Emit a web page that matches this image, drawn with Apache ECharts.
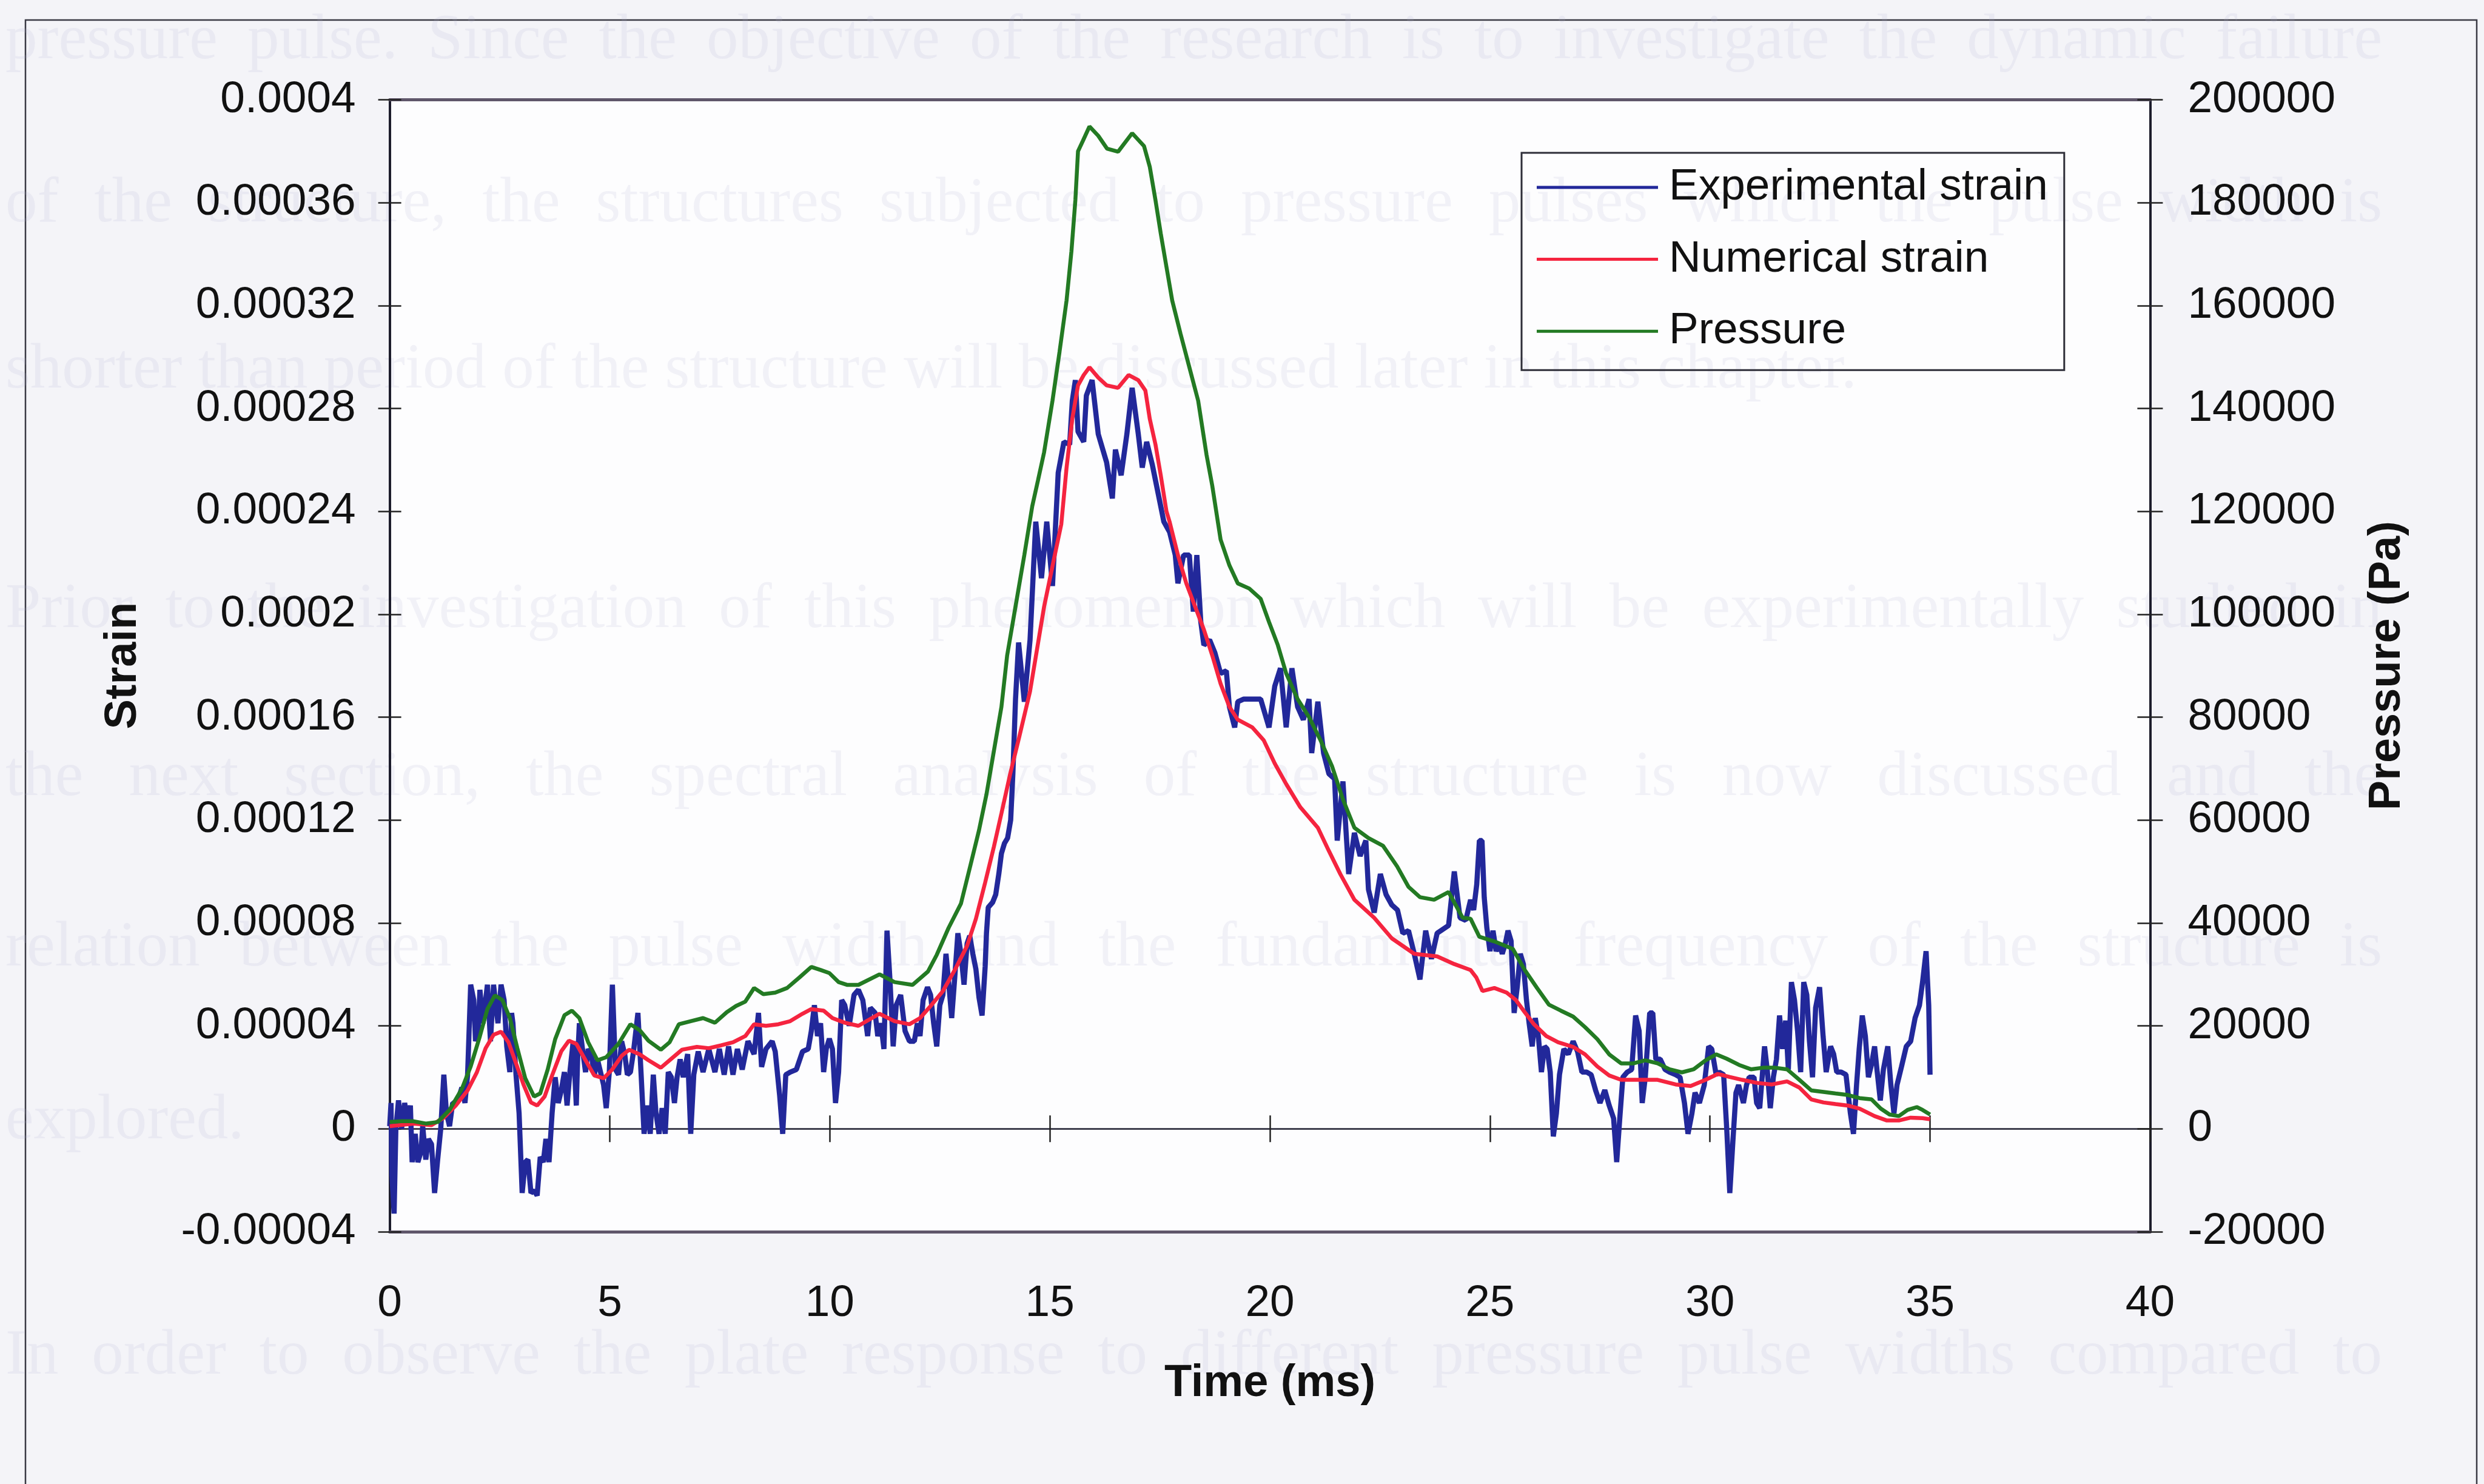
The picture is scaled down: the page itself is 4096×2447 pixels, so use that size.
<!DOCTYPE html>
<html>
<head>
<meta charset="utf-8">
<title>Strain and pressure vs time</title>
<script src="https://cdn.jsdelivr.net/npm/echarts/dist/echarts.min.js"></script>
<style>
  html, body { margin: 0; padding: 0; background: #f4f4f8; }
  #chart { width: 4096px; height: 2447px; }
</style>
</head>
<body>
<div id="chart"></div>
<script>
// ---------------- data ----------------
// axis tick labels
const timeTicks = ['0', '5', '10', '15', '20', '25', '30', '35', '40'];
const strainTicks = ['-0.00004', '0', '0.00004', '0.00008', '0.00012', '0.00016', '0.0002',
                     '0.00024', '0.00028', '0.00032', '0.00036', '0.0004'];
const pressureTicks = ['-20000', '0', '20000', '40000', '60000', '80000', '100000',
                       '120000', '140000', '160000', '180000', '200000'];

const seriesNames = ['Experimental strain', 'Numerical strain', 'Pressure'];

// measured strain gauge signal: [time (ms), strain (microstrain)]
const expStrain = [
  [0,1],[0.03,10],[0.05,-18],[0.1,-33],[0.14,0],[0.2,11],[0.27,0],[0.34,10],[0.4,3],[0.47,9],
  [0.51,-13],[0.58,-2],[0.64,-13],[0.71,-9],[0.75,1],[0.82,-12],[0.88,-4],[0.95,-6],[1.02,-25],[1.09,-12],
  [1.16,0],[1.23,21],[1.29,6],[1.36,1],[1.43,10],[1.53,10],[1.64,16],[1.71,10],[1.77,21],[1.84,56],
  [1.91,50],[1.95,34],[2.01,38],[2.05,54],[2.12,41],[2.22,56],[2.29,34],[2.36,56],[2.46,41],[2.53,56],
  [2.6,50],[2.66,32],[2.73,22],[2.77,45],[2.8,41],[2.87,21],[2.94,6],[3.01,-25],[3.08,-13],[3.14,-12],
  [3.21,-25],[3.28,-24],[3.35,-26],[3.42,-11],[3.49,-13],[3.55,-4],[3.62,-13],[3.69,6],[3.76,20],[3.83,10],
  [3.9,15],[3.97,22],[4.03,9],[4.1,23],[4.17,34],[4.24,9],[4.27,27],[4.31,41],[4.38,31],[4.45,22],
  [4.51,31],[4.58,29],[4.65,21],[4.72,27],[4.79,22],[4.86,17],[4.92,8],[4.99,22],[5.06,56],[5.13,23],
  [5.2,21],[5.27,34],[5.34,29],[5.4,21],[5.47,22],[5.54,30],[5.64,45],[5.71,22],[5.78,-2],[5.85,9],
  [5.92,-2],[5.99,21],[6.05,6],[6.12,-2],[6.19,8],[6.26,-2],[6.33,22],[6.4,20],[6.47,10],[6.53,20],
  [6.6,27],[6.67,20],[6.77,29],[6.84,-2],[6.91,21],[7.01,30],[7.12,22],[7.25,31],[7.39,22],[7.49,31],
  [7.6,21],[7.7,32],[7.8,21],[7.9,31],[8.01,23],[8.14,34],[8.28,29],[8.38,45],[8.45,24],[8.55,31],
  [8.69,34],[8.76,30],[8.86,13],[8.93,-2],[9,21],[9.1,22],[9.24,23],[9.38,30],[9.51,31],[9.58,38],
  [9.65,48],[9.72,36],[9.79,41],[9.86,22],[9.92,31],[9.99,35],[10.06,31],[10.13,10],[10.2,22],[10.27,50],
  [10.34,48],[10.44,40],[10.55,52],[10.65,54],[10.75,50],[10.86,36],[10.92,47],[11.03,45],[11.09,36],[11.16,41],
  [11.23,31],[11.3,77],[11.37,57],[11.44,32],[11.51,48],[11.61,52],[11.71,38],[11.81,34],[11.92,34],[11.99,41],
  [12.05,36],[12.12,50],[12.22,55],[12.29,52],[12.36,41],[12.43,32],[12.5,48],[12.57,52],[12.64,68],[12.7,57],
  [12.77,43],[12.84,59],[12.91,76],[12.98,68],[13.05,56],[13.12,72],[13.18,75],[13.25,68],[13.32,62],[13.39,51],
  [13.46,44],[13.53,63],[13.56,76],[13.6,86],[13.7,88],[13.77,91],[13.84,99],[13.9,107],[13.97,111],[14.04,113],
  [14.11,120],[14.16,138],[14.22,167],[14.29,189],[14.42,166],[14.55,190],[14.68,236],[14.81,214],[14.93,236],[15.06,211],
  [15.19,255],[15.32,267],[15.45,266],[15.51,283],[15.58,291],[15.64,271],[15.77,267],[15.83,285],[15.96,291],[16.1,270],
  [16.29,259],[16.42,245],[16.49,264],[16.62,254],[16.75,270],[16.87,288],[17.01,270],[17.1,257],[17.2,267],[17.33,258],
  [17.46,247],[17.59,236],[17.72,232],[17.85,223],[17.91,212],[18.04,223],[18.17,223],[18.26,201],[18.34,223],[18.43,197],
  [18.5,188],[18.63,190],[18.75,185],[18.88,177],[19.01,178],[19.08,164],[19.2,156],[19.27,166],[19.4,167],[19.79,167],
  [19.98,156],[20.11,172],[20.24,179],[20.37,156],[20.5,179],[20.63,164],[20.76,159],[20.89,167],[20.95,146],[21.09,166],
  [21.22,146],[21.34,138],[21.47,136],[21.53,112],[21.66,135],[21.79,99],[21.92,115],[22.05,106],[22.18,112],[22.24,93],
  [22.37,84],[22.51,99],[22.64,91],[22.77,87],[22.9,85],[23.02,76],[23.15,77],[23.28,68],[23.41,58],[23.54,77],
  [23.67,66],[23.8,76],[24.06,79],[24.19,100],[24.32,82],[24.45,81],[24.56,89],[24.63,85],[24.7,95],[24.76,112],
  [24.82,112],[24.87,90],[24.93,78],[25,69],[25.07,77],[25.14,69],[25.21,72],[25.28,68],[25.35,72],[25.41,77],
  [25.48,73],[25.55,45],[25.62,55],[25.69,68],[25.76,64],[25.83,50],[25.89,41],[25.96,32],[26.03,43],[26.1,36],
  [26.17,22],[26.24,32],[26.3,31],[26.37,22],[26.44,-3],[26.51,6],[26.58,21],[26.68,31],[26.78,29],[26.89,34],
  [26.99,30],[27.09,22],[27.2,22],[27.3,21],[27.4,15],[27.5,10],[27.61,15],[27.71,9],[27.81,4],[27.88,-13],
  [27.95,4],[28.02,20],[28.12,22],[28.22,23],[28.31,44],[28.39,38],[28.46,10],[28.53,20],[28.63,45],[28.7,45],
  [28.77,27],[28.87,27],[28.98,23],[29.08,22],[29.22,21],[29.32,20],[29.42,10],[29.5,-2],[29.59,6],[29.66,14],
  [29.76,10],[29.87,17],[29.97,32],[30.04,31],[30.14,21],[30.21,22],[30.31,21],[30.38,0],[30.45,-25],[30.52,-5],
  [30.59,14],[30.65,17],[30.76,10],[30.83,17],[30.89,20],[31,20],[31.06,10],[31.13,8],[31.24,32],[31.3,23],
  [31.37,8],[31.44,20],[31.51,27],[31.58,44],[31.65,31],[31.72,42],[31.78,23],[31.85,57],[31.92,50],[31.99,38],
  [32.06,22],[32.13,57],[32.2,52],[32.26,34],[32.33,20],[32.4,47],[32.49,55],[32.57,36],[32.64,22],[32.74,32],
  [32.81,29],[32.88,22],[32.98,22],[33.09,21],[33.19,6],[33.26,-2],[33.33,17],[33.39,31],[33.46,44],[33.53,36],
  [33.6,20],[33.67,25],[33.74,32],[33.8,22],[33.87,11],[33.94,23],[34.04,32],[34.11,17],[34.18,6],[34.25,17],
  [34.35,24],[34.46,32],[34.56,34],[34.66,43],[34.76,48],[34.83,57],[34.91,69],[34.97,48],[35,21]
];

// finite element prediction: [time (ms), strain (microstrain)]
const numStrain = [
  [0,1],[0.54,2],[0.95,1.4],[1.23,4.3],[1.5,9],[1.77,14.9],[1.98,21.9],[2.18,31.3],[2.36,36.5],[2.53,37.7],
  [2.7,33.6],[2.87,25.4],[3.04,17.2],[3.21,10.2],[3.35,9],[3.52,12.5],[3.69,20.7],[3.9,30.1],[4.07,34.2],[4.24,33],
  [4.45,26.6],[4.65,20.7],[4.86,19.6],[5.06,23.1],[5.27,28.3],[5.44,30.7],[5.68,28.9],[5.88,26.6],[6.16,23.7],[6.36,26.6],
  [6.64,30.7],[6.98,31.8],[7.25,31.3],[7.53,32.4],[7.8,33.6],[8.08,36],[8.28,40.6],[8.55,40],[8.83,40.6],[9.1,41.8],
  [9.38,44.7],[9.58,46.5],[9.86,45.9],[10.06,43],[10.34,41.2],[10.65,40],[11.13,44.7],[11.47,41.8],[11.81,40.6],[12.05,43],
  [12.29,47.7],[12.57,53.5],[12.84,61.7],[13.12,71.1],[13.32,81.6],[13.53,95.7],[13.73,109.7],[13.9,122.6],[14.1,138],[14.3,152],
  [14.55,170],[14.87,203],[15.1,222],[15.26,235],[15.38,257],[15.51,276],[15.64,289],[15.77,293],[15.9,296],[16.1,292],
  [16.29,289],[16.55,288],[16.79,293],[17.01,291],[17.17,287],[17.27,276],[17.4,266],[17.52,254],[17.65,240],[17.72,236],
  [17.91,223],[18.1,212],[18.3,203],[18.5,194],[18.69,184],[18.88,173],[19.08,164],[19.27,159],[19.6,156],[19.86,151],
  [20.11,142],[20.37,134],[20.69,125],[21.09,117],[21.34,108],[21.6,99],[21.92,89],[22.37,82],[22.77,74],[23.28,68],
  [23.8,67],[24.19,64],[24.56,61.7],[24.69,58.8],[24.83,53.5],[25.1,54.7],[25.38,52.9],[25.59,50],[25.79,45.3],[26,40.6],
  [26.28,36],[26.55,33.6],[26.89,31.8],[27.16,28.9],[27.44,24.2],[27.71,20.7],[27.98,19],[28.4,19],[28.81,19],[29.22,17.2],
  [29.56,16.6],[29.9,19],[30.18,21.3],[30.45,20.1],[30.73,19],[31.07,17.8],[31.41,17.2],[31.75,18.4],[32.03,16],[32.3,11.4],
  [32.58,10.2],[32.85,9.6],[33.13,9],[33.4,7.8],[33.74,4.9],[34.02,3.2],[34.29,3.2],[34.56,4.3],[34.83,4.1],[35,3.7]
];

// applied pressure pulse: [time (ms), pressure (Pa)]
const pressure = [
  [0,1300],[0.27,1450],[0.54,1450],[0.82,1000],[1.09,1300],[1.36,3650],[1.64,7750],[1.84,12100],[2.05,18000],[2.22,23250],
  [2.39,25900],[2.56,25000],[2.73,21500],[2.9,15650],[3.08,9800],[3.28,6250],[3.42,6850],[3.59,11500],[3.76,17400],[3.97,22050],
  [4.14,22950],[4.31,21500],[4.51,16800],[4.72,13300],[4.92,13900],[5.2,16500],[5.47,20300],[5.68,19150],[5.88,17100],[6.16,15350],
  [6.36,16800],[6.57,20300],[6.84,20900],[7.12,21500],[7.39,20600],[7.66,22650],[7.87,23850],[8.08,24700],[8.28,27350],[8.49,26150],
  [8.76,26450],[9.03,27350],[9.31,29400],[9.58,31450],[9.79,30850],[9.99,30250],[10.2,28500],[10.4,27950],[10.65,27950],[11.13,30000],
  [11.47,28500],[11.88,27950],[12.23,30550],[12.43,33800],[12.7,39050],[12.98,43750],[13.19,51000],[13.39,58000],[13.56,65000],[13.7,72000],
  [13.9,82000],[14.03,92000],[14.22,101500],[14.42,111500],[14.6,121000],[14.73,126000],[14.87,131500],[15.06,141500],[15.22,151000],[15.38,161000],
  [15.49,170500],[15.58,180500],[15.64,190000],[15.75,192000],[15.9,194800],[16.1,193000],[16.3,190500],[16.55,189900],[16.87,193500],[17.14,191000],
  [17.27,187000],[17.4,180500],[17.52,174000],[17.65,167500],[17.78,161000],[17.97,154500],[18.17,148000],[18.37,141500],[18.56,131000],[18.69,125000],
  [18.88,114500],[19.08,109500],[19.27,106000],[19.53,105000],[19.79,103000],[19.98,98500],[20.18,94000],[20.37,88500],[20.63,83500],[20.89,80000],
  [21.15,75500],[21.41,70500],[21.66,64000],[21.92,58500],[22.24,56500],[22.57,55000],[22.89,51000],[23.15,47000],[23.41,45000],[23.73,44500],
  [24.06,46000],[24.38,41000],[24.56,40800],[24.76,37300],[25.1,36400],[25.52,34950],[25.79,30850],[26.07,27350],[26.34,24100],[26.61,22950],
  [26.89,21800],[27.16,19750],[27.44,17400],[27.71,14450],[27.98,12700],[28.26,12700],[28.53,13300],[28.81,12700],[29.08,11550],[29.36,10950],
  [29.63,11550],[29.9,13300],[30.14,14450],[30.38,13600],[30.66,12400],[30.93,11550],[31.2,11850],[31.48,11850],[31.75,11550],[32.03,9500],
  [32.3,7450],[32.58,7150],[32.85,6850],[33.13,6550],[33.4,5950],[33.67,5700],[33.88,3900],[34.08,2750],[34.29,2450],[34.49,3650],
  [34.7,4200],[34.83,3650],[35,2750]
];

// text of the printed page the figure sits on
const pageLines = [
  'pressure pulse. Since the objective of the research is to investigate the dynamic failure',
  'of the structure, the structures subjected to pressure pulses which the pulse width is',
  'shorter than period of the structure will be discussed later in this chapter.',
  'Prior to the investigation of this phenomenon which will be experimentally studied in',
  'the next section, the spectral analysis of the structure is now discussed and the',
  'relation between the pulse width and the fundamental frequency of the structure is',
  'explored.',
  'In order to observe the plate response to different pressure pulse widths compared to'
];

// ---------------- layout & style ----------------
const FONT = '"Liberation Sans", Arial, Helvetica, sans-serif';
const TEXT = '#111111';
const EDGE = '#5f566a';      // plot area top/bottom edge
const AXIS = '#1d1d2c';      // vertical axes
const ZERO = '#3a3a48';      // time axis drawn through zero
const BLUE = '#22289a', RED = '#f5243f', GREEN = '#237a23';

const PLOT = { left: 642.6, top: 164.5, width: 2902.8, height: 1866.3 };

const PAGE_FONT_SIZE = 105;
const PAGE_LEFT = 9, PAGE_RIGHT = 3928;
const pageBaselines = [104, 373, 647, 1042, 1319, 1600, 1885, 2273];
const pageJustify = [true, true, false, true, true, true, false, true];
const PAGE_INK = 'rgba(175,175,205,0.15)';

function scaleOf(ticks) {
  const v = ticks.map(Number);
  return { min: v[0], max: v[v.length - 1], interval: v[1] - v[0] };
}
function tickFormatter(ticks) {
  const s = scaleOf(ticks);
  return value => ticks[Math.round((value - s.min) / s.interval)];
}

const labelStyle = { fontSize: 73, fontFamily: FONT, color: TEXT };
const nameStyle = { fontSize: 74, fontFamily: FONT, fontWeight: 'bold', color: TEXT };
const tickLine = { color: '#222', width: 2.5 };

// words of the page text, spread across the full line width where justified
function pageTextElements() {
  const ctx = document.createElement('canvas').getContext('2d');
  const font = PAGE_FONT_SIZE + 'px "Liberation Serif", "Times New Roman", serif';
  ctx.font = font;
  const space = ctx.measureText(' ').width;
  const out = [];
  pageLines.forEach((line, i) => {
    const words = line.split(' ');
    const widths = words.map(w => ctx.measureText(w).width);
    const total = widths.reduce((a, b) => a + b, 0);
    const gap = pageJustify[i] && words.length > 1
      ? (PAGE_RIGHT - PAGE_LEFT - total) / (words.length - 1) : space;
    let x = PAGE_LEFT;
    const y = pageBaselines[i] - 0.34 * PAGE_FONT_SIZE;
    words.forEach((w, j) => {
      out.push({
        type: 'text', x: x, y: y, z: 1, silent: true,
        style: { text: w, font: font, fill: PAGE_INK, align: 'left', verticalAlign: 'middle' }
      });
      x += widths[j] + gap;
    });
  });
  return out;
}

const timeScale = scaleOf(timeTicks);
const strainScale = scaleOf(strainTicks);
const pressureScale = scaleOf(pressureTicks);

function timeAxis(extra) {
  return Object.assign({
    type: 'value', min: timeScale.min, max: timeScale.max, interval: timeScale.interval,
    splitLine: { show: false }, axisLabel: { show: false }, axisTick: { show: false }, z: 2
  }, extra);
}
function strainAxis(extra) {
  return Object.assign({
    type: 'value', position: 'left', min: strainScale.min, max: strainScale.max, interval: strainScale.interval,
    splitLine: { show: false }, axisLabel: { show: false }, z: 2,
    axisLine: { show: true, onZero: false, lineStyle: { color: AXIS, width: 4 } }
  }, extra);
}
function pressureAxis(extra) {
  return Object.assign({
    type: 'value', position: 'right', min: pressureScale.min, max: pressureScale.max, interval: pressureScale.interval,
    splitLine: { show: false }, axisLabel: { show: false }, z: 2,
    axisLine: { show: true, onZero: false, lineStyle: { color: AXIS, width: 4 } }
  }, extra);
}

const option = {
  animation: false,
  backgroundColor: '#f4f4f8',
  grid: {
    show: true, z: 0, left: PLOT.left, top: PLOT.top, width: PLOT.width, height: PLOT.height,
    backgroundColor: '#fdfdfe', borderWidth: 0
  },
  legend: {
    orient: 'vertical', left: 2509, top: 252, z: 4,
    icon: 'rect', itemWidth: 200, itemHeight: 5, itemGap: 38.6,
    padding: [17, 27, 24, 25],
    borderColor: '#2e2e38', borderWidth: 3, backgroundColor: 'transparent',
    selectedMode: false,
    textStyle: { fontSize: 73, fontFamily: FONT, color: TEXT, lineHeight: 80, padding: [0, 0, 0, 13] },
    data: seriesNames
  },
  xAxis: [
    // labels below the plot area, on its bottom edge
    timeAxis({
      position: 'bottom',
      axisLine: { show: true, onZero: false, lineStyle: { color: EDGE, width: 5 } },
      axisLabel: Object.assign({ show: true, margin: 83, formatter: tickFormatter(timeTicks) }, labelStyle),
      name: 'Time (ms)', nameLocation: 'middle', nameGap: 214, nameTextStyle: nameStyle
    }),
    // top edge of the plot area
    timeAxis({
      position: 'top',
      axisLine: { show: true, onZero: false, lineStyle: { color: EDGE, width: 5 } }
    }),
    // time axis through zero strain, ticks crossing it
    timeAxis({
      position: 'bottom',
      axisLine: { show: true, onZero: true, onZeroAxisIndex: 0, lineStyle: { color: ZERO, width: 2.5 } },
      axisTick: { show: true, inside: false, length: 22, lineStyle: tickLine }
    }),
    timeAxis({
      position: 'bottom',
      axisLine: { show: true, onZero: true, onZeroAxisIndex: 0, lineStyle: { color: ZERO, width: 2.5 } },
      axisTick: { show: true, inside: true, length: 22, lineStyle: tickLine }
    })
  ],
  yAxis: [
    strainAxis({
      axisTick: { show: true, inside: false, length: 19, lineStyle: tickLine },
      axisLabel: Object.assign({ show: true, margin: 56, formatter: tickFormatter(strainTicks) }, labelStyle),
      name: 'Strain', nameLocation: 'middle', nameGap: 402, nameTextStyle: nameStyle
    }),
    pressureAxis({
      axisTick: { show: true, inside: false, length: 21, lineStyle: tickLine },
      axisLabel: Object.assign({ show: true, margin: 62, formatter: tickFormatter(pressureTicks) }, labelStyle),
      name: 'Pressure (Pa)', nameLocation: 'middle', nameGap: 354, nameTextStyle: nameStyle
    }),
    strainAxis({ axisTick: { show: true, inside: true, length: 19, lineStyle: tickLine } }),
    pressureAxis({ axisTick: { show: true, inside: true, length: 21, lineStyle: tickLine } })
  ],
  graphic: {
    elements: [
      {
        type: 'rect', z: 1, silent: true,
        shape: { x: 42, y: 33, width: 4042, height: 2500 },
        style: { fill: 'none', stroke: '#3a3a44', lineWidth: 2.5 }
      }
    ].concat(pageTextElements())
  },
  series: [
    {
      name: seriesNames[0], type: 'line', xAxisIndex: 0, yAxisIndex: 0, z: 3,
      symbol: 'none', showSymbol: false,
      lineStyle: { color: BLUE, width: 8.5 }, itemStyle: { color: BLUE },
      data: expStrain.map(([t, u]) => [t, u * 1e-6])
    },
    {
      name: seriesNames[1], type: 'line', xAxisIndex: 0, yAxisIndex: 0, z: 3,
      symbol: 'none', showSymbol: false,
      lineStyle: { color: RED, width: 6.5 }, itemStyle: { color: RED },
      data: numStrain.map(([t, u]) => [t, u * 1e-6])
    },
    {
      name: seriesNames[2], type: 'line', xAxisIndex: 0, yAxisIndex: 1, z: 3,
      symbol: 'none', showSymbol: false,
      lineStyle: { color: GREEN, width: 6.5 }, itemStyle: { color: GREEN },
      data: pressure
    }
  ]
};

const chart = echarts.init(document.getElementById('chart'), null, { renderer: 'canvas' });
chart.setOption(option);
</script>
</body>
</html>
